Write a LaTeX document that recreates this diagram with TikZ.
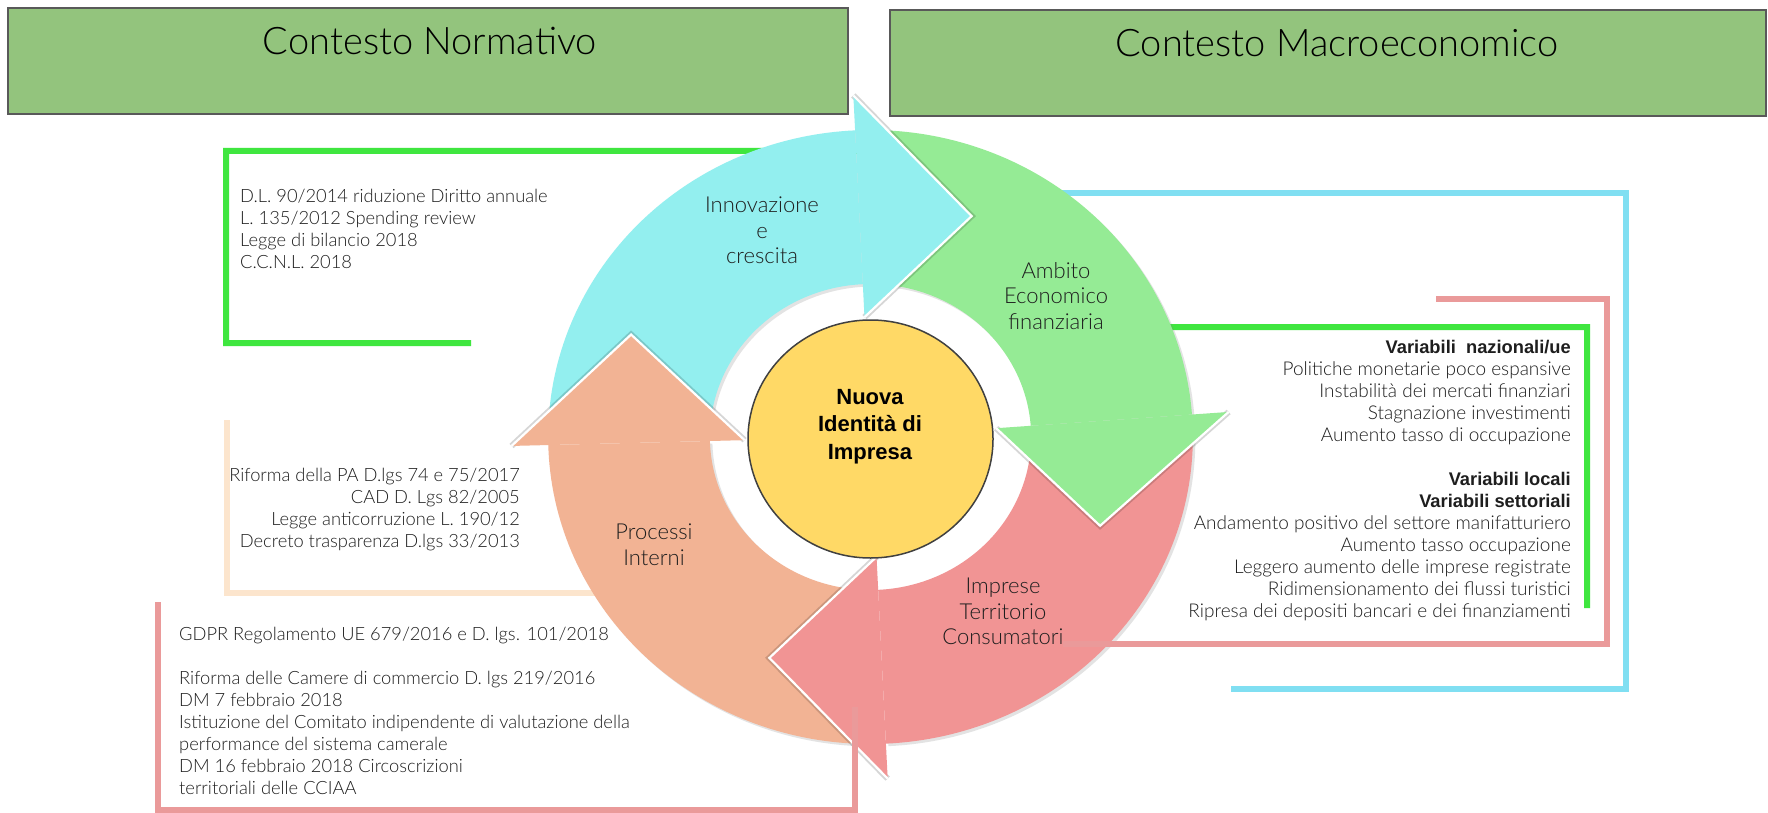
\documentclass[tikz,border=0pt]{standalone}
\usepackage{fontspec}
\setmainfont{Liberation Sans}
\newfontfamily\lightfont{Lato}[UprightFont={* Light}, BoldFont={* Bold}]
\usetikzlibrary{shadows,shapes.geometric}
\definecolor{hdrfill}{HTML}{93C47D}
\definecolor{hdrline}{HTML}{595959}
\definecolor{cyanA}{HTML}{93EFEF}
\definecolor{greenA}{HTML}{95EB95}
\definecolor{redA}{HTML}{F19494}
\definecolor{salmonA}{HTML}{F2B394}
\definecolor{coreY}{HTML}{FFD966}
\definecolor{lineG}{HTML}{3FE63F}
\definecolor{lineB}{HTML}{80DFF2}
\definecolor{lineP}{HTML}{EA9A9A}
\definecolor{lineO}{HTML}{FCE5CD}
\definecolor{txt}{HTML}{1E1E1E}
\newcommand{\Ro}{307}
\newcommand{\Ri}{153}
\newcommand{\Ho}{342}
\newcommand{\Hi}{120}
\newcommand{\ringbodypath}[3]{%
  \fill[ringbody=#1] plot[domain=#2:#3, samples=70] (\x:\Ro) -- plot[domain=#3:#2, samples=70] (\x:\Ri) -- cycle;}
\newcommand{\ringheadpath}[4]{%
  \draw[headshadow] (#2:\Ho) -- (#3:#4) -- (#2:\Hi);
  \fill[#1] (#2:\Hi) -- (#2:\Ho) -- (#3:#4) -- cycle;
  \draw[headedge] (#2:\Ho) -- (#3:#4) -- (#2:\Hi);}
\begin{document}
\begin{tikzpicture}[x=1pt,y=-1pt,
  hdr/.style={draw=hdrline, line width=2pt, fill=hdrfill, inner sep=0pt},
  ttl/.style={font=\lightfont\fontsize{38}{45}\selectfont, text=black, inner sep=0pt},
  btext/.style={font=\lightfont\fontsize{18.3}{22}\selectfont, text=txt, inner sep=0pt},
  rtext/.style={font=\lightfont\fontsize{19}{22}\selectfont, text=txt, inner sep=0pt},
  lbl/.style={font=\lightfont\fontsize{22}{25.5}\selectfont, text=txt, align=center, inner sep=0pt},
  fline/.style={line width=6pt, line join=miter},
  ringbody/.style={fill=#1, drop shadow={opacity=0.22, shadow xshift=2.5pt, shadow yshift=-2.5pt}},
  headshadow/.style={draw=black, opacity=0.16, line width=6pt, line join=miter},
  headedge/.style={draw=white, line width=2.2pt, line join=miter},
  coreshape/.style={ellipse, draw=black!75, line width=1.5pt, fill=coreY, minimum width=245pt, minimum height=238pt, inner sep=0pt}]
\useasboundingbox (0,0) rectangle (1768,813);
\fill[white] (0,0) rectangle (1768,813);

% header boxes
\node[hdr, minimum width=840pt, minimum height=106pt] (hNorm) at (428,61) {};
\node[hdr, minimum width=876pt, minimum height=106pt] (hMacro) at (1328,63) {};
\node[ttl, anchor=base] (tNorm) at (430,55) {Contesto Normativo};
\node[ttl, anchor=base] (tMacro) at (1337,57) {Contesto Macroeconomico};

% frame lines behind the cycle
\coordinate (gA) at (471,343);
\coordinate (gB) at (226,343);
\coordinate (gC) at (226,151);
\coordinate (gD) at (940,151);
\coordinate (gE) at (1100,327);
\coordinate (gF) at (1587,327);
\coordinate (gG) at (1587,608);
\draw[fline, lineG] (gA) -- (gB) -- (gC) -- (gD) -- (gE) -- (gF) -- (gG);

\coordinate (bA) at (975,193);
\coordinate (bB) at (1626,193);
\coordinate (bC) at (1626,689);
\coordinate (bD) at (1231,689);
\draw[fline, lineB] (bA) -- (bB) -- (bC) -- (bD);

\coordinate (oA) at (650,593);
\coordinate (oB) at (227,593);
\coordinate (oC) at (227,420);
\draw[fline, lineO] (oA) -- (oB) -- (oC);

% cycle of arrows
\begin{scope}[shift={(870.5,437)}, xscale=1.05]
  \ringbodypath{cyanA}{181.5}{267.26}
  \ringbodypath{greenA}{270.26}{355.8}
  \ringbodypath{redA}{358.8}{447.26}
  \ringbodypath{salmonA}{450.26}{538.5}
  \ringheadpath{cyanA}{267.26}{293.56}{241}
  \ringheadpath{greenA}{355.8}{382.1}{236}
  \ringheadpath{redA}{447.26}{473.56}{241}
  \ringheadpath{salmonA}{538.5}{564.2}{250}
\end{scope}

\node[coreshape] (core) at (870.5,439) {};
\node[font=\bfseries\fontsize{22}{27.5}\selectfont, text=black, align=center, anchor=north, inner sep=0pt] (lCore) at (870,389) {Nuova\\Identità di\\Impresa};

\node[lbl, anchor=north] (lInn) at (762,197) {Innovazione\\e\\crescita};
\node[lbl, anchor=north] (lAmb) at (1056,262) {Ambito\\Economico\\finanziaria};
\node[lbl, anchor=north] (lPro) at (654,524) {Processi\\Interni};
\node[lbl, anchor=north] (lImp) at (1003,578) {Imprese\\Territorio\\Consumatori};

% frame lines on top
\coordinate (pA) at (1063,644);
\coordinate (pB) at (1607,644);
\coordinate (pC) at (1607,299);
\coordinate (pD) at (1436,299);
\draw[fline, lineP] (pA) -- (pB) -- (pC) -- (pD);

\coordinate (qA) at (855,707);
\coordinate (qB) at (855,810);
\coordinate (qC) at (158,810);
\coordinate (qD) at (158,602);
\draw[fline, lineP] (qA) -- (qB) -- (qC) -- (qD);

% text blocks
\node[btext, align=left, anchor=north west] (nNorm) at (240,189) {D.L. 90/2014 riduzione Diritto annuale\\L. 135/2012 Spending review\\Legge di bilancio 2018\\C.C.N.L. 2018};

\node[btext, align=right, anchor=north east] (nPA) at (520,468) {Riforma della PA D.lgs 74 e 75/2017\\CAD D. Lgs 82/2005\\Legge anticorruzione L. 190/12\\Decreto trasparenza D.lgs 33/2013};

\node[btext, align=left, anchor=north west] (nCam) at (179,627) {GDPR Regolamento UE 679/2016 e D. lgs. 101/2018\\[22pt]Riforma delle Camere di commercio D. lgs 219/2016\\DM 7 febbraio 2018\\Istituzione del Comitato indipendente di valutazione della\\performance del sistema camerale\\DM 16 febbraio 2018 Circoscrizioni\\territoriali delle CCIAA};

\node[rtext, align=right, anchor=north east] (nMacro) at (1571,340) {{\normalfont\bfseries\fontsize{18.3}{22}\selectfont Variabili\ \ nazionali/ue}\\Politiche monetarie poco espansive\\Instabilità dei mercati finanziari\\Stagnazione investimenti\\Aumento tasso di occupazione\\[22pt]{\normalfont\bfseries\fontsize{18.3}{22}\selectfont Variabili locali}\\{\normalfont\bfseries\fontsize{18.3}{22}\selectfont Variabili settoriali}\\Andamento positivo del settore manifatturiero\\Aumento tasso occupazione\\Leggero aumento delle imprese registrate\\Ridimensionamento dei flussi turistici\\Ripresa dei depositi bancari e dei finanziamenti};
\end{tikzpicture}
\end{document}
